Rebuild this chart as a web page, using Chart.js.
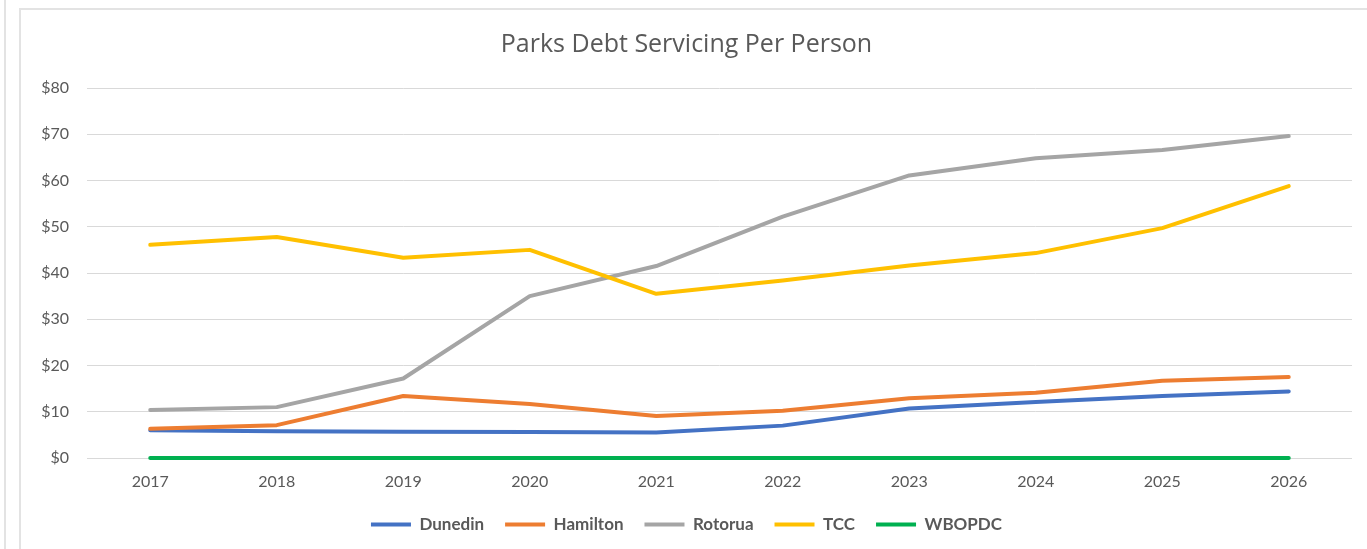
<!DOCTYPE html>
<html>
<head>
<meta charset="utf-8">
<script src="https://cdn.jsdelivr.net/npm/chart.js@4/dist/chart.umd.min.js"></script>
<style>
    html, body { margin: 0; padding: 0; background: #fff; }
    body { width: 1367px; height: 549px; position: relative; overflow: hidden; }
    .side-line { position: absolute; left: 4px; top: 0; width: 2px; height: 549px; background: #e3e3e3; }
    .frame { position: absolute; left: 19px; top: 8px; width: 1360px; height: 560px;
             border-left: 2px solid #e3e3e3; border-top: 2px solid #e3e3e3; }
    .chart-box { position: absolute; left: 21px; top: 10px; width: 1346px; height: 539px; }
</style>
</head>
<body>
<div class="side-line"></div>
<div class="frame"></div>
<div class="chart-box"><canvas id="debtChart"></canvas></div>
<script>
document.addEventListener('DOMContentLoaded', () => {
    const years = ['2017', '2018', '2019', '2020', '2021', '2022', '2023', '2024', '2025', '2026'];

    // $ per person
    const dunedin  = [6.0, 5.8, 5.7, 5.6, 5.5, 7.0, 10.7, 12.1, 13.4, 14.4];
    const hamilton = [6.3, 7.1, 13.4, 11.7, 9.1, 10.2, 12.9, 14.1, 16.7, 17.5];
    const rotorua  = [10.4, 11.0, 17.2, 35.0, 41.5, 52.2, 61.1, 64.8, 66.6, 69.6];
    const tcc      = [46.1, 47.8, 43.3, 45.0, 35.5, 38.4, 41.6, 44.3, 49.7, 58.8];
    const wbopdc   = [0, 0, 0, 0, 0, 0, 0, 0, 0, 0];

    const yTicks = [0, 10, 20, 30, 40, 50, 60, 70, 80];

    const textColor = '#595959';
    const fontFamily = 'Lato, "Open Sans", sans-serif';

    // excel draws later series on top, chart.js draws lowest order on top
    function makeLine(label, data, color, order) {
        return {
            label: label,
            data: data,
            borderColor: color,
            backgroundColor: color,
            borderWidth: 4,
            borderCapStyle: 'round',
            borderJoinStyle: 'round',
            pointRadius: 0,
            pointHoverRadius: 0,
            tension: 0,
            fill: false,
            clip: false, // the $0 line would lose its lower half otherwise
            order: order
        };
    }

    new Chart(document.getElementById('debtChart').getContext('2d'), {
        type: 'line',
        data: {
            labels: years,
            datasets: [
                makeLine('Dunedin', dunedin, '#4472C4', 5),
                makeLine('Hamilton', hamilton, '#ED7D31', 4),
                makeLine('Rotorua', rotorua, '#A5A5A5', 3),
                makeLine('TCC', tcc, '#FFC000', 2),
                makeLine('WBOPDC', wbopdc, '#00B050', 1)
            ]
        },
        options: {
            responsive: true,
            maintainAspectRatio: false,
            animation: false,
            layout: { padding: { left: 0, right: 15, top: 0, bottom: 6 } },
            plugins: {
                title: {
                    display: true,
                    text: 'Parks Debt Servicing Per Person',
                    color: textColor,
                    font: { family: '"Open Sans", sans-serif', size: 25, weight: 'normal' },
                    padding: { top: 20, bottom: 28 }
                },
                legend: {
                    position: 'bottom',
                    labels: {
                        usePointStyle: true,
                        pointStyle: 'line',
                        pointStyleWidth: 40,
                        boxHeight: 17,
                        padding: 21,
                        color: textColor,
                        font: { family: fontFamily, size: 17, weight: 'bold' },
                        sort: (a, b) => a.datasetIndex - b.datasetIndex
                    }
                },
                tooltip: { enabled: false }
            },
            scales: {
                x: {
                    offset: true,
                    grid: { display: false, drawTicks: false },
                    border: { display: false },
                    ticks: {
                        color: textColor,
                        font: { family: fontFamily, size: 16 },
                        padding: 14,
                        maxRotation: 0
                    },
                    afterFit: (scale) => { scale.height = 37; }
                },
                y: {
                    min: 0,
                    max: 80,
                    afterBuildTicks: (scale) => {
                        scale.ticks = yTicks.map(v => ({ value: v }));
                    },
                    grid: { color: '#d9d9d9', lineWidth: 1, drawTicks: false },
                    border: { display: false },
                    ticks: {
                        color: textColor,
                        font: { family: fontFamily, size: 16 },
                        padding: 18,
                        callback: (v) => '$' + v
                    },
                    afterFit: (scale) => { scale.width = 66; }
                }
            }
        }
    });
});
</script>
</body>
</html>
